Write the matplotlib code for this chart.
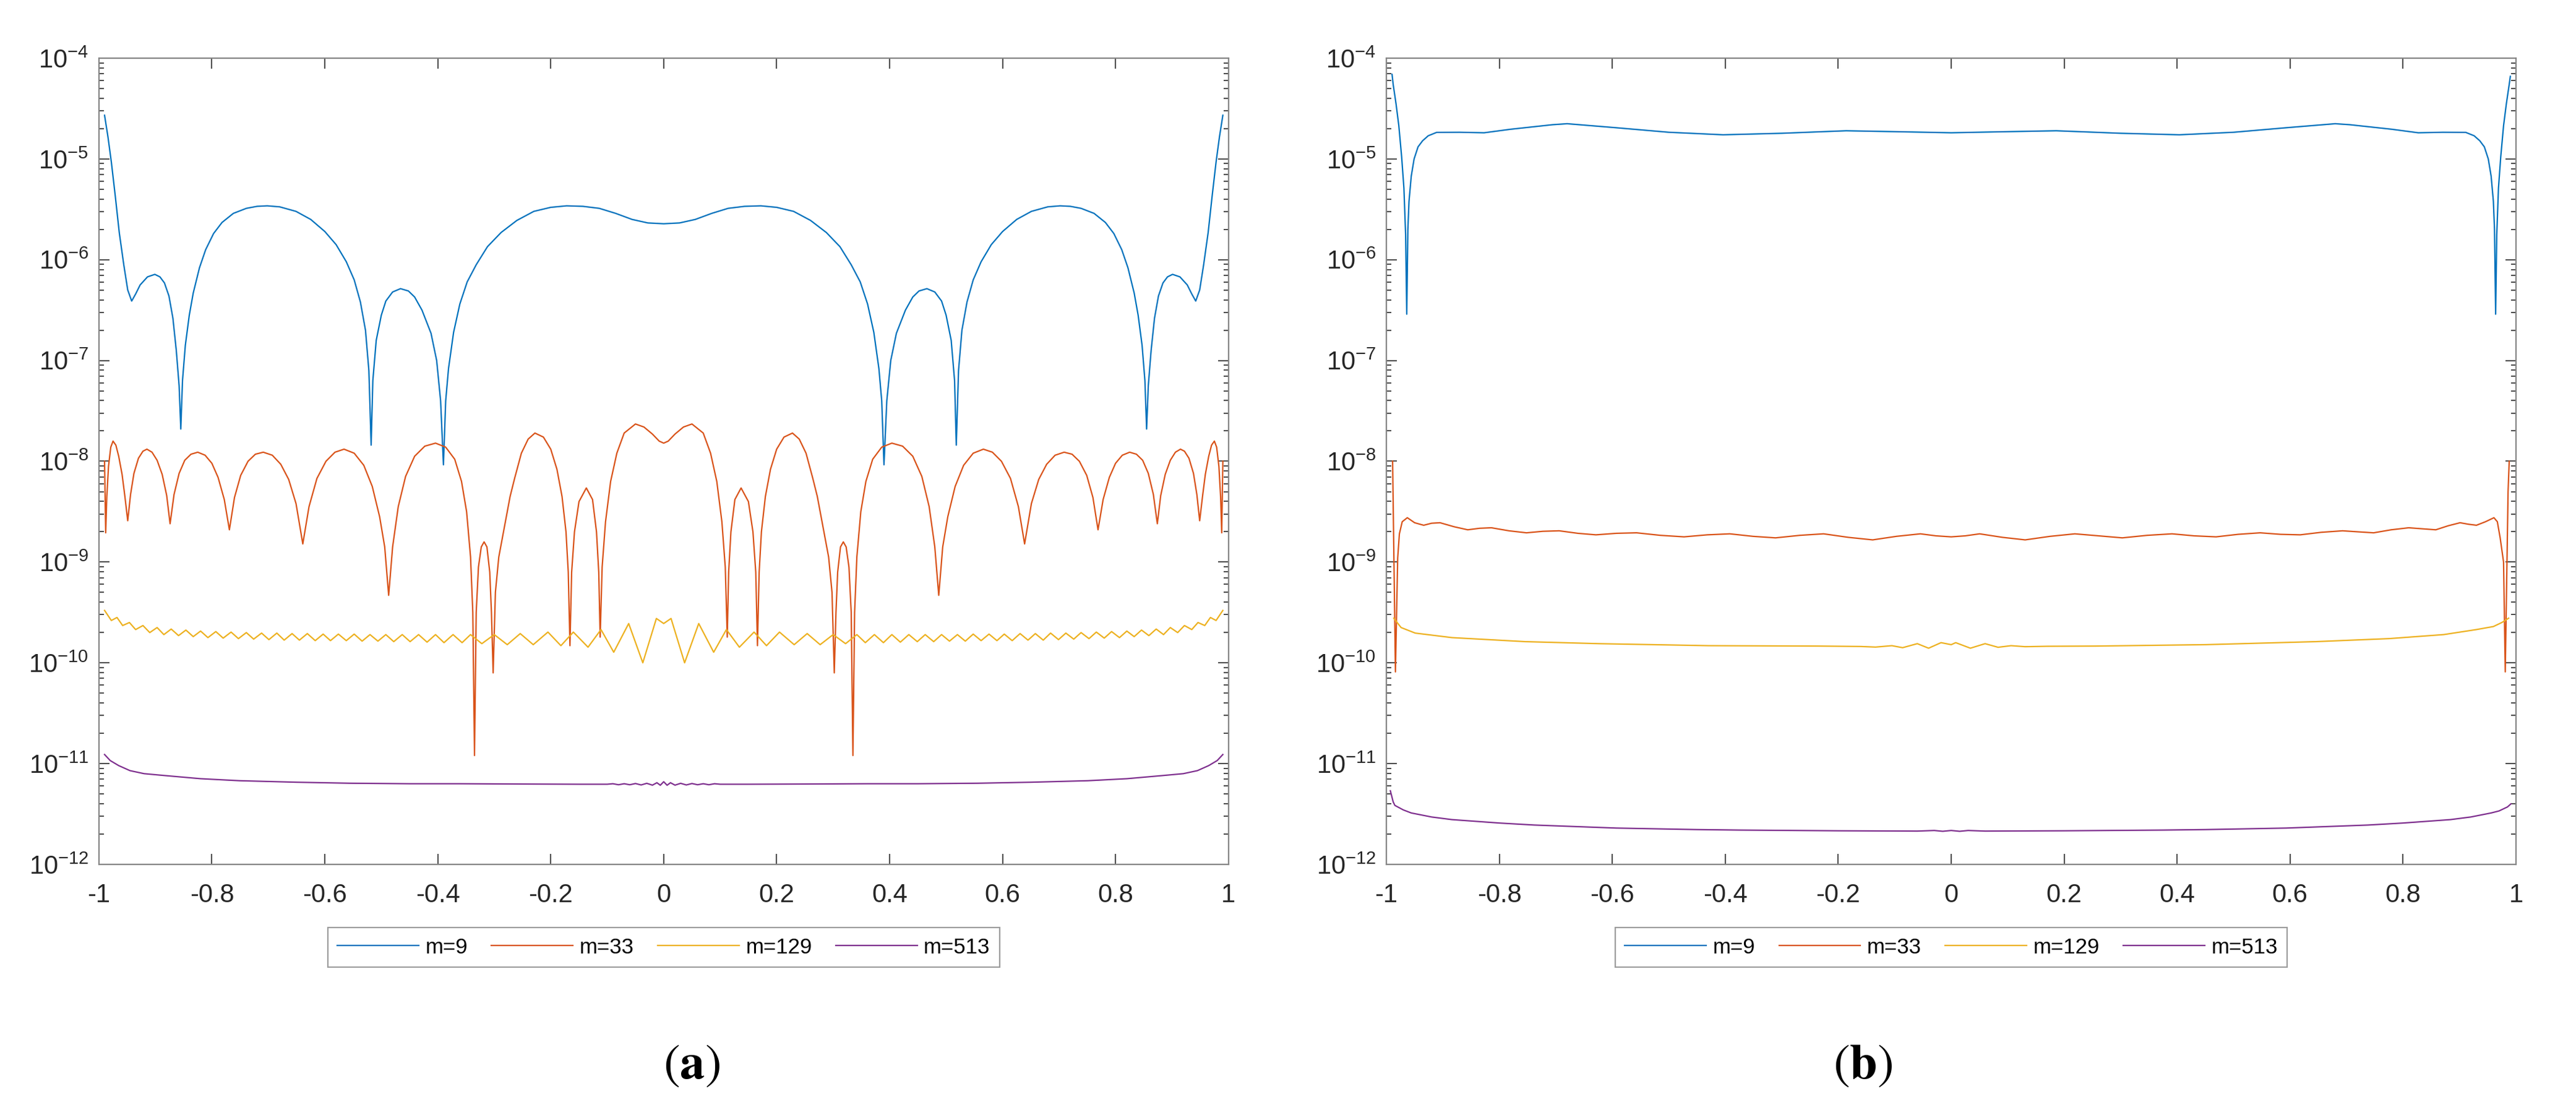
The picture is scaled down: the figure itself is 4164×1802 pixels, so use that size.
import numpy as np
import matplotlib
matplotlib.use("Agg")
import matplotlib.pyplot as plt

plt.rcParams["font.family"] = ["Liberation Sans", "DejaVu Sans"]
plt.rcParams["mathtext.fontset"] = "stix"
plt.rcParams["axes.unicode_minus"] = False

# values, y given as log10 of the error
labels = ["m=9", "m=33", "m=129", "m=513"]
colors = ["#0072BD", "#D95319", "#EDB120", "#7E2F8E"]
xticks = [-1, -0.8, -0.6, -0.4, -0.2, 0, 0.2, 0.4, 0.6, 0.8, 1]
xticklabels = ["-1", "-0.8", "-0.6", "-0.4", "-0.2", "0", "0.2", "0.4", "0.6", "0.8", "1"]

# ---- panel (a) ----
a9_x = [-0.99, -0.984, -0.978, -0.971, -0.964, -0.956, -0.949, -0.942, -0.935, -0.927, -0.914, -0.901,
        -0.892, -0.884, -0.876, -0.869, -0.863, -0.858, -0.855, -0.852, -0.847, -0.84, -0.833, -0.822,
        -0.811, -0.797, -0.782, -0.762, -0.739, -0.72, -0.702, -0.68, -0.651, -0.625, -0.6, -0.58,
        -0.562, -0.548, -0.537, -0.528, -0.522, -0.518, -0.515, -0.509, -0.5, -0.492, -0.48, -0.466,
        -0.452, -0.441, -0.428, -0.412, -0.402, -0.395, -0.39, -0.386, -0.381, -0.372, -0.361, -0.348,
        -0.332, -0.312, -0.288, -0.26, -0.23, -0.2, -0.172, -0.143, -0.114, -0.085, -0.056, -0.028, 0.0,
        0.028, 0.056, 0.085, 0.114, 0.143, 0.172, 0.2, 0.23, 0.26, 0.288, 0.312, 0.332,
        0.348, 0.361, 0.372, 0.381, 0.386, 0.39, 0.395, 0.402, 0.412, 0.428, 0.441, 0.452,
        0.466, 0.48, 0.492, 0.5, 0.509, 0.515, 0.518, 0.522, 0.528, 0.537, 0.548, 0.562,
        0.58, 0.6, 0.625, 0.651, 0.68, 0.702, 0.72, 0.739, 0.762, 0.782, 0.797, 0.811,
        0.822, 0.833, 0.84, 0.847, 0.852, 0.855, 0.858, 0.863, 0.869, 0.876, 0.884, 0.892,
        0.901, 0.914, 0.927, 0.935, 0.942, 0.949, 0.956, 0.964, 0.971, 0.978, 0.984, 0.99]
a9_log = [-4.566, -4.78, -5.03, -5.37, -5.73, -6.05, -6.3, -6.41, -6.34, -6.25, -6.17, -6.145,
          -6.17, -6.23, -6.36, -6.58, -6.9, -7.25, -7.68, -7.2, -6.85, -6.55, -6.33, -6.08,
          -5.9, -5.74, -5.63, -5.54, -5.49, -5.47, -5.465, -5.475, -5.52, -5.6, -5.72, -5.85,
          -6.02, -6.2, -6.42, -6.7, -7.1, -7.84, -7.2, -6.8, -6.55, -6.41, -6.32, -6.287,
          -6.31, -6.37, -6.5, -6.73, -7.0, -7.4, -8.035, -7.4, -7.08, -6.72, -6.44, -6.22,
          -6.05, -5.87, -5.73, -5.61, -5.52, -5.48, -5.465, -5.47, -5.49, -5.54, -5.6, -5.635, -5.643,
          -5.635, -5.6, -5.54, -5.49, -5.47, -5.465, -5.48, -5.52, -5.61, -5.73, -5.87, -6.05,
          -6.22, -6.44, -6.72, -7.08, -7.4, -8.035, -7.4, -7.0, -6.73, -6.5, -6.37, -6.31,
          -6.287, -6.32, -6.41, -6.55, -6.8, -7.2, -7.84, -7.1, -6.7, -6.42, -6.2, -6.02,
          -5.85, -5.72, -5.6, -5.52, -5.475, -5.465, -5.47, -5.49, -5.54, -5.63, -5.74, -5.9,
          -6.08, -6.33, -6.55, -6.85, -7.2, -7.68, -7.25, -6.9, -6.58, -6.36, -6.23, -6.17,
          -6.145, -6.17, -6.25, -6.34, -6.41, -6.3, -6.05, -5.73, -5.37, -5.03, -4.78, -4.566]

a33_x = [-0.99, -0.988, -0.986, -0.983, -0.979, -0.975, -0.97, -0.965, -0.959, -0.954, -0.949,
         -0.944, -0.938, -0.93, -0.922, -0.915, -0.906, -0.897, -0.888, -0.88, -0.874,
         -0.867, -0.858, -0.848, -0.837, -0.825, -0.812, -0.8, -0.789, -0.778, -0.769,
         -0.76, -0.749, -0.736, -0.723, -0.709, -0.693, -0.678, -0.664, -0.651, -0.639,
         -0.628, -0.614, -0.598, -0.582, -0.566, -0.548, -0.531, -0.516, -0.503, -0.494, -0.487,
         -0.48, -0.47, -0.457, -0.441, -0.423, -0.404, -0.386, -0.37, -0.358, -0.349, -0.342, -0.338, -0.335,
         -0.332, -0.328, -0.323, -0.318, -0.313, -0.308, -0.305, -0.302,
         -0.298, -0.292, -0.283, -0.272, -0.264, -0.252, -0.24, -0.228, -0.213, -0.2, -0.189, -0.18, -0.173, -0.169, -0.166,
         -0.163, -0.158, -0.15, -0.137, -0.126, -0.119, -0.115, -0.1125,
         -0.109, -0.103, -0.094, -0.083, -0.07, -0.05, -0.035, -0.02, -0.008, 0.0,
         0.008, 0.02, 0.035, 0.05, 0.07, 0.083, 0.094, 0.103, 0.109,
         0.1125, 0.115, 0.119, 0.126, 0.137, 0.15, 0.158, 0.163,
         0.166, 0.169, 0.173, 0.18, 0.189, 0.2, 0.213, 0.228, 0.24, 0.252, 0.264, 0.272, 0.283, 0.292, 0.298,
         0.302, 0.305, 0.308, 0.313, 0.318, 0.323, 0.328, 0.332,
         0.335, 0.338, 0.342, 0.349, 0.358, 0.37, 0.386, 0.404, 0.423, 0.441, 0.457, 0.47, 0.48,
         0.487, 0.494, 0.503, 0.516, 0.531, 0.548, 0.566, 0.582, 0.598, 0.614, 0.628,
         0.639, 0.651, 0.664, 0.678, 0.693, 0.709, 0.723, 0.736, 0.749, 0.76,
         0.769, 0.778, 0.789, 0.8, 0.812, 0.825, 0.837, 0.848, 0.858, 0.867,
         0.874, 0.88, 0.888, 0.897, 0.906, 0.915, 0.922, 0.93, 0.938, 0.944,
         0.949, 0.954, 0.959, 0.965, 0.97, 0.975, 0.979, 0.983, 0.986, 0.988, 0.99]
a33_log = [-8.0, -8.71, -8.35, -8.05, -7.86, -7.8, -7.84, -7.95, -8.13, -8.35, -8.59,
           -8.33, -8.12, -7.97, -7.9, -7.88, -7.91, -7.99, -8.13, -8.34, -8.62,
           -8.33, -8.12, -7.99, -7.93, -7.91, -7.94, -8.02, -8.16, -8.38, -8.68,
           -8.36, -8.14, -8.0, -7.93, -7.91, -7.94, -8.03, -8.18, -8.42, -8.82,
           -8.45, -8.17, -8.0, -7.91, -7.88, -7.92, -8.04, -8.25, -8.55, -8.85, -9.33,
           -8.85, -8.45, -8.15, -7.95, -7.85, -7.82, -7.86, -7.98, -8.2, -8.5, -8.95, -9.5, -10.92,
           -9.5, -9.05, -8.85, -8.8, -8.85, -9.1, -9.5, -10.1,
           -9.3, -8.95, -8.68, -8.35, -8.17, -7.92, -7.78, -7.72, -7.76, -7.88, -8.08, -8.35, -8.7, -9.1, -9.83,
           -9.1, -8.7, -8.4, -8.265, -8.38, -8.7, -9.1, -9.745,
           -9.05, -8.6, -8.2, -7.92, -7.72, -7.63, -7.66, -7.73, -7.8, -7.82,
           -7.8, -7.73, -7.66, -7.63, -7.72, -7.92, -8.2, -8.6, -9.05,
           -9.745, -9.1, -8.7, -8.38, -8.265, -8.4, -8.7, -9.1,
           -9.83, -9.1, -8.7, -8.35, -8.08, -7.88, -7.76, -7.72, -7.78, -7.92, -8.17, -8.35, -8.68, -8.95, -9.3,
           -10.1, -9.5, -9.1, -8.85, -8.8, -8.85, -9.05, -9.5,
           -10.92, -9.5, -8.95, -8.5, -8.2, -7.98, -7.86, -7.82, -7.85, -7.95, -8.15, -8.45, -8.85,
           -9.33, -8.85, -8.55, -8.25, -8.04, -7.92, -7.88, -7.91, -8.0, -8.17, -8.45,
           -8.82, -8.42, -8.18, -8.03, -7.94, -7.91, -7.93, -8.0, -8.14, -8.36,
           -8.68, -8.38, -8.16, -8.02, -7.94, -7.91, -7.93, -7.99, -8.12, -8.33,
           -8.62, -8.34, -8.13, -7.99, -7.91, -7.88, -7.9, -7.97, -8.12, -8.33,
           -8.59, -8.35, -8.13, -7.95, -7.84, -7.8, -7.86, -8.05, -8.35, -8.71, -8.0]

a129_x = [-0.99, -0.978, -0.968, -0.958, -0.946, -0.935, -0.922, -0.91, -0.897, -0.885, -0.872, -0.859,
          -0.846, -0.833, -0.82, -0.807, -0.793, -0.78, -0.766, -0.753, -0.739, -0.726, -0.712, -0.699,
          -0.685, -0.672, -0.658, -0.645, -0.631, -0.617, -0.603, -0.59, -0.576, -0.562, -0.548, -0.534,
          -0.52, -0.506, -0.492, -0.478, -0.463, -0.449, -0.434, -0.419, -0.404, -0.389, -0.373, -0.357,
          -0.342, -0.322, -0.3, -0.277, -0.254, -0.231, -0.205, -0.182, -0.16, -0.134, -0.111, -0.0885,
          -0.062, -0.037, -0.013, 0.0,
          0.013, 0.037, 0.062, 0.0885, 0.111, 0.134, 0.16, 0.182, 0.205, 0.231, 0.254, 0.277,
          0.3, 0.322, 0.342, 0.357, 0.373, 0.389, 0.404, 0.419, 0.434, 0.449, 0.463, 0.478,
          0.492, 0.506, 0.52, 0.534, 0.548, 0.562, 0.576, 0.59, 0.603, 0.617, 0.631, 0.645,
          0.658, 0.672, 0.685, 0.699, 0.712, 0.726, 0.739, 0.753, 0.766, 0.78, 0.793, 0.807,
          0.82, 0.833, 0.846, 0.859, 0.872, 0.885, 0.897, 0.91, 0.922, 0.935, 0.946, 0.958,
          0.968, 0.978, 0.99]
a129_log = [-9.48, -9.58, -9.55, -9.63, -9.6, -9.67, -9.63, -9.7, -9.65, -9.72, -9.665, -9.73,
            -9.675, -9.74, -9.685, -9.75, -9.69, -9.755, -9.695, -9.76, -9.7, -9.765, -9.705, -9.77,
            -9.705, -9.775, -9.71, -9.775, -9.71, -9.78, -9.715, -9.78, -9.715, -9.78, -9.715, -9.785,
            -9.72, -9.785, -9.72, -9.79, -9.72, -9.79, -9.72, -9.795, -9.72, -9.8, -9.72, -9.8,
            -9.72, -9.81, -9.72, -9.82, -9.71, -9.82, -9.695, -9.83, -9.695, -9.845, -9.67, -9.895,
            -9.61, -10.0, -9.56, -9.61,
            -9.56, -10.0, -9.61, -9.895, -9.67, -9.845, -9.695, -9.83, -9.695, -9.82, -9.71, -9.82,
            -9.72, -9.81, -9.72, -9.8, -9.72, -9.8, -9.72, -9.795, -9.72, -9.79, -9.72, -9.79,
            -9.72, -9.785, -9.72, -9.785, -9.715, -9.78, -9.715, -9.78, -9.715, -9.78, -9.71, -9.775,
            -9.71, -9.775, -9.705, -9.77, -9.705, -9.765, -9.7, -9.76, -9.695, -9.755, -9.69, -9.75,
            -9.685, -9.74, -9.675, -9.73, -9.665, -9.72, -9.65, -9.7, -9.63, -9.67, -9.6, -9.63,
            -9.55, -9.58, -9.48]

a513_x = [-0.99, -0.98, -0.965, -0.945, -0.92, -0.881, -0.82, -0.751, -0.65, -0.556, -0.45, -0.362,
          -0.25, -0.15, -0.1, -0.09, -0.08, -0.07, -0.06, -0.05, -0.04, -0.03, -0.02, -0.012, -0.006, 0.0,
          0.006, 0.012, 0.02, 0.03, 0.04, 0.05, 0.06, 0.07, 0.08, 0.09, 0.1, 0.15, 0.25, 0.362,
          0.45, 0.556, 0.65, 0.751, 0.82, 0.881, 0.92, 0.945, 0.965, 0.98, 0.99]
a513_log = [-10.91, -10.97, -11.02, -11.07, -11.1, -11.12, -11.15, -11.17, -11.185, -11.195, -11.2, -11.2,
            -11.203, -11.205, -11.205, -11.2, -11.21, -11.2, -11.21, -11.198, -11.212, -11.196, -11.214, -11.19, -11.215, -11.18,
            -11.215, -11.19, -11.214, -11.196, -11.212, -11.198, -11.21, -11.2, -11.21, -11.2, -11.205, -11.205, -11.203, -11.2,
            -11.2, -11.195, -11.185, -11.17, -11.15, -11.12, -11.1, -11.07, -11.02, -10.97, -10.91]

# ---- panel (b) ----
b9_x = [-0.99, -0.988, -0.983, -0.978, -0.973, -0.969, -0.966, -0.964, -0.962, -0.96, -0.956, -0.951,
        -0.944, -0.936, -0.926, -0.911, -0.87, -0.827, -0.78, -0.706, -0.68, -0.593, -0.5, -0.404,
        -0.3, -0.186, -0.09, 0.0,
        0.09, 0.186, 0.3, 0.404, 0.5, 0.593, 0.68, 0.706, 0.78, 0.827, 0.87, 0.911,
        0.926, 0.936, 0.944, 0.951, 0.956, 0.96, 0.962, 0.964, 0.966, 0.969, 0.973, 0.978,
        0.983, 0.988, 0.99]
b9_log = [-4.16, -4.26, -4.45, -4.67, -4.98, -5.29, -5.75, -6.54, -5.7, -5.42, -5.17, -5.0,
          -4.88, -4.82, -4.77, -4.736, -4.735, -4.74, -4.705, -4.66, -4.65, -4.69, -4.735, -4.76,
          -4.745, -4.72, -4.73, -4.74,
          -4.73, -4.72, -4.745, -4.76, -4.735, -4.69, -4.65, -4.66, -4.705, -4.74, -4.735, -4.736,
          -4.77, -4.82, -4.88, -5.0, -5.17, -5.42, -5.7, -6.54, -5.75, -5.29, -4.98, -4.67,
          -4.45, -4.26, -4.18]

b33_x = [-0.989, -0.984, -0.98, -0.977, -0.972, -0.963, -0.95, -0.934, -0.92, -0.905, -0.88, -0.856,
         -0.835, -0.814, -0.783, -0.752, -0.723, -0.694, -0.661, -0.629, -0.593, -0.557, -0.515, -0.473,
         -0.432, -0.392, -0.351, -0.311, -0.268, -0.226, -0.182, -0.139, -0.097, -0.0545, -0.027, 0.0,
         0.025, 0.0503, 0.091, 0.131, 0.175, 0.219, 0.261, 0.303, 0.347, 0.391, 0.43, 0.469,
         0.508, 0.547, 0.583, 0.618, 0.655, 0.693, 0.72, 0.748, 0.779, 0.81, 0.834, 0.858,
         0.88, 0.901, 0.916, 0.93, 0.946, 0.961, 0.967, 0.972, 0.978, 0.981, 0.986, 0.988]
b33_log = [-8.0, -10.09, -8.96, -8.72, -8.6, -8.56, -8.61, -8.635, -8.615, -8.61, -8.65, -8.68,
           -8.665, -8.66, -8.69, -8.71, -8.695, -8.69, -8.715, -8.73, -8.715, -8.71, -8.735, -8.75,
           -8.73, -8.72, -8.745, -8.76, -8.735, -8.72, -8.755, -8.78, -8.745, -8.72, -8.74, -8.75,
           -8.74, -8.72, -8.755, -8.78, -8.745, -8.72, -8.74, -8.76, -8.735, -8.72, -8.74, -8.75,
           -8.725, -8.71, -8.725, -8.73, -8.705, -8.69, -8.7, -8.71, -8.68, -8.66, -8.67, -8.68,
           -8.64, -8.61, -8.625, -8.635, -8.6, -8.56, -8.6, -8.76, -9.0, -10.09, -8.3, -8.0]

b129_x = [-0.987, -0.974, -0.949, -0.884, -0.754, -0.624, -0.43, -0.235, -0.16, -0.134, -0.105, -0.086,
          -0.06, -0.04, -0.018, 0.0, 0.008, 0.034, 0.06, 0.083, 0.106, 0.131, 0.17, 0.255,
          0.45, 0.645, 0.775, 0.872, 0.93, 0.96, 0.975, 0.987]
b129_log = [-9.557, -9.65, -9.705, -9.75, -9.79, -9.81, -9.83, -9.834, -9.838, -9.844, -9.83, -9.85,
            -9.81, -9.855, -9.8, -9.82, -9.8, -9.855, -9.81, -9.846, -9.83, -9.84, -9.836, -9.834,
            -9.82, -9.79, -9.76, -9.72, -9.67, -9.64, -9.6, -9.557]

b513_x = [-0.993, -0.988, -0.985, -0.97, -0.956, -0.92, -0.884, -0.8, -0.738, -0.593, -0.45, -0.375,
          -0.2, -0.06, -0.03, -0.015, 0.0, 0.015, 0.03, 0.06, 0.2, 0.375, 0.45, 0.593,
          0.738, 0.8, 0.884, 0.92, 0.956, 0.97, 0.985, 0.991]
b513_log = [-11.27, -11.38, -11.415, -11.46, -11.49, -11.53, -11.556, -11.59, -11.61, -11.64, -11.655, -11.66,
            -11.667, -11.67, -11.664, -11.672, -11.664, -11.672, -11.664, -11.67, -11.667, -11.66, -11.655, -11.64,
            -11.61, -11.59, -11.556, -11.53, -11.49, -11.47, -11.43, -11.40]

panels = [
    [(a9_x, a9_log), (a33_x, a33_log), (a129_x, a129_log), (a513_x, a513_log)],
    [(b9_x, b9_log), (b33_x, b33_log), (b129_x, b129_log), (b513_x, b513_log)],
]


def style_axes(ax):
    ax.set_yscale("log")
    ax.set_xlim(-1, 1)
    ax.set_ylim(1e-12, 1e-4)
    ax.set_xticks(xticks)
    ax.set_xticklabels(xticklabels)
    for s in ax.spines.values():
        s.set_color("#858585")
        s.set_linewidth(1.6)
    ax.tick_params(which="both", direction="in", top=True, right=True,
                   color="#3a3a3a", width=1.3, labelcolor="#262626")
    ax.tick_params(which="major", length=12)
    ax.tick_params(which="minor", length=6)
    ax.tick_params(axis="x", labelsize=30, pad=22)
    ax.tick_params(axis="y", labelsize=30, pad=12)
    ax.tick_params(axis="x", which="minor", bottom=False, top=False)


fig = plt.figure(figsize=(41.64, 18.02), dpi=100)
lefts = [0.0384, 0.5382]
tags = [r"$(\mathbf{a})$", r"$(\mathbf{b})$"]
tag_x = [0.2685, 0.7231]

for i, series in enumerate(panels):
    ax = fig.add_axes([lefts[i], 0.2248, 0.4385, 0.7230])
    for (x, lg), c, lab in zip(series, colors, labels):
        ax.plot(x, 10.0 ** np.array(lg), color=c, lw=1.6, label=lab)
    style_axes(ax)
    leg = ax.legend(loc="center", bbox_to_anchor=(0.5, -0.103), ncol=4, fontsize=25,
                    frameon=True, fancybox=False, handlelength=3.8, handletextpad=0.3,
                    columnspacing=1.1, borderpad=0.45, borderaxespad=0)
    leg.get_frame().set_edgecolor("#858585")
    leg.get_frame().set_linewidth(1.6)
    fig.text(tag_x[i], 0.0444, tags[i], fontsize=58, ha="center", va="center")

fig.savefig("out.png", dpi=100, facecolor="white")
